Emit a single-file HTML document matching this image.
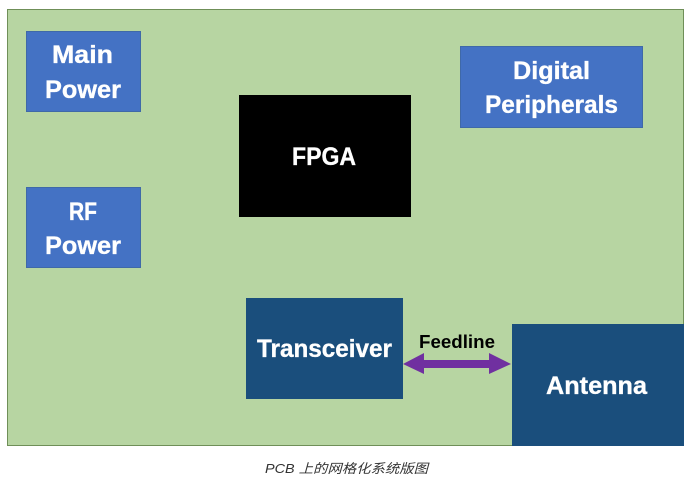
<!DOCTYPE html>
<html>
<head>
<meta charset="utf-8">
<style>
html,body{margin:0;padding:0;background:#fff;width:693px;height:490px;overflow:hidden}
svg{display:block}
.w{font-family:"Liberation Sans",sans-serif;font-weight:700;font-size:25px;fill:#fff;stroke:#fff;stroke-width:.35px}
</style>
</head>
<body>
<svg width="693" height="490" viewBox="0 0 693 490" xmlns="http://www.w3.org/2000/svg">
<rect x="7.5" y="9.5" width="676" height="436" fill="#b7d5a2" stroke="#6f8f58" stroke-width="1"/>
<rect x="26.5" y="31.5" width="114" height="80" fill="#4472c4" stroke="#3f69a8" stroke-width="1"/>
<rect x="26.5" y="187.5" width="114" height="80" fill="#4472c4" stroke="#3f69a8" stroke-width="1"/>
<rect x="460.5" y="46.5" width="182" height="81" fill="#4472c4" stroke="#3f69a8" stroke-width="1"/>
<rect x="239" y="95" width="172" height="122" fill="#000"/>
<rect x="246" y="298" width="157" height="101" fill="#1a4e7c"/>
<rect x="512" y="324" width="172" height="122" fill="#1a4e7c"/>
<polygon points="403,364 424,353 424,360 489,360 489,353 511,364 489,374 489,368 424,368 424,374" fill="#7030a0"/>
<text class="w" x="52" y="63" textLength="61" lengthAdjust="spacingAndGlyphs">Main</text>
<text class="w" x="45" y="98" textLength="76" lengthAdjust="spacingAndGlyphs">Power</text>
<text class="w" x="69" y="220" textLength="28" lengthAdjust="spacingAndGlyphs">RF</text>
<text class="w" x="45" y="254" textLength="76" lengthAdjust="spacingAndGlyphs">Power</text>
<text class="w" x="513" y="79" textLength="77" lengthAdjust="spacingAndGlyphs">Digital</text>
<text class="w" x="485" y="113" textLength="133" lengthAdjust="spacingAndGlyphs">Peripherals</text>
<text class="w" x="292" y="165" textLength="64" lengthAdjust="spacingAndGlyphs">FPGA</text>
<text class="w" x="257" y="357" textLength="135" lengthAdjust="spacingAndGlyphs">Transceiver</text>
<text class="w" x="546" y="394" textLength="101" lengthAdjust="spacingAndGlyphs">Antenna</text>
<text x="419" y="348" textLength="76" lengthAdjust="spacingAndGlyphs" font-family="'Liberation Sans',sans-serif" font-weight="700" font-size="18" fill="#000">Feedline</text>
<text x="265" y="473" textLength="163" lengthAdjust="spacingAndGlyphs" font-family="'Liberation Sans','Noto Sans CJK SC',sans-serif" font-style="italic" font-size="13" fill="#333">PCB 上的网格化系统版图</text>
</svg>
</body>
</html>
